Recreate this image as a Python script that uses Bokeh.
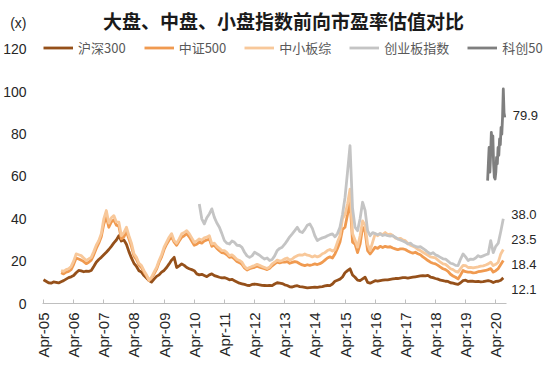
import math
import numpy as np
from bokeh.plotting import figure
from bokeh.models import Range1d, FixedTicker, Legend, LegendItem, Label
from bokeh.embed import file_html
from bokeh.resources import INLINE

title_text = "大盘、中盘、小盘指数前向市盈率估值对比"
unit_text = "(x)"
series_names = ["沪深300", "中证500", "中小板综", "创业板指数", "科创50"]
tick_years = [2005.25 + k for k in range(16)]
tick_labels = ["Apr-05", "Apr-06", "Apr-07", "Apr-08", "Apr-09", "Apr-10", "Apr-11", "Apr-12",
               "Apr-13", "Apr-14", "Apr-15", "Apr-16", "Apr-17", "Apr-18", "Apr-19", "Apr-20"]
y_ticks = [0, 20, 40, 60, 80, 100, 120]
end_labels = ["79.9", "38.0", "23.5", "18.4", "12.1"]

# monthly readings (fractional-year start, one value per month)
hs300_start = 2005.25
hs300 = [
    11.2, 10.5, 9.8, 9.6, 10.2, 10.0, 9.7, 10.3, 10.8, 11.5, 12.2, 12.6,
    13.2, 14.5, 15.6, 15.4, 15.0, 15.3, 15.2, 15.6, 17.5, 19.5, 20.8, 21.8,
    23.0, 24.2, 25.5, 27.0, 28.6, 30.0, 32.0, 29.5, 30.0, 28.0, 24.5, 21.5,
    19.0, 17.5, 15.5, 14.8, 13.2, 12.0, 10.8, 10.1, 11.5, 12.8, 13.5, 14.8,
    15.6, 17.0, 18.7, 20.5, 21.8, 17.0, 17.8, 18.7, 18.0, 17.0, 16.4, 16.0,
    15.5, 14.0, 13.5, 13.8, 13.2, 12.7, 13.5, 14.0, 13.2, 12.8, 12.4, 12.1,
    12.2, 11.8, 11.2, 11.4, 10.8, 10.2, 9.6, 9.3, 9.0, 8.6, 8.5, 9.0,
    9.2, 9.0, 8.8, 8.6, 8.5, 8.4, 8.6, 8.4, 9.2, 9.8, 9.6, 9.4,
    8.8, 8.5, 7.9, 7.8, 8.2, 8.4, 8.0, 7.8, 7.6, 7.4, 7.5, 7.6,
    7.7, 7.6, 7.8, 8.0, 8.3, 8.5, 8.4, 9.2, 10.5, 11.0, 11.5, 12.5,
    14.5, 15.5, 16.4, 13.5, 12.4, 11.0, 10.8, 11.6, 12.4, 10.0, 9.6, 10.2,
    10.8, 10.6, 10.8, 11.0, 11.2, 11.2, 11.4, 11.6, 11.8, 11.8, 12.0, 12.2,
    12.2, 12.0, 12.2, 12.4, 12.6, 12.8, 13.0, 13.2, 13.0, 13.3, 12.5, 12.2,
    11.8, 11.5, 11.0, 10.8, 10.5, 10.4, 9.8, 9.6, 9.3, 9.0, 9.8, 10.8,
    11.0, 10.4, 10.6, 10.5, 10.3, 10.4, 10.2, 10.3, 10.6, 10.8, 10.5, 9.9,
    10.4, 10.5, 11.0, 12.1,
]

zz500_start = 2005.8333
zz500 = [
    14.5, 14.0, 14.8, 15.2, 16.0,
    18.5, 21.5, 21.0, 20.5, 19.8, 18.8, 19.5, 20.5, 23.0, 26.0, 28.5, 31.5,
    37.5, 41.0, 36.0, 38.5, 39.5, 37.0, 36.5, 30.5, 31.5, 34.0, 30.5, 27.0,
    22.5, 20.8, 18.2, 17.0, 14.8, 13.0, 10.8, 12.0, 14.0, 16.2, 19.5, 22.0,
    25.5, 28.0, 30.0, 31.5, 29.0, 27.5, 29.5, 31.3, 32.0, 33.0, 31.5, 29.5,
    27.5, 28.0, 29.0, 28.5, 29.5, 30.0, 30.5, 27.0, 27.5, 26.0, 25.0, 24.0,
    23.8, 23.0, 21.8, 22.0, 21.0, 19.8, 19.3, 18.5, 16.8, 15.8, 16.4, 16.8,
    17.1, 17.6, 17.2, 16.8, 16.4, 16.0, 16.6, 17.8, 18.7, 19.5, 19.2, 19.5,
    19.5, 19.8, 19.0, 19.4, 19.8, 19.5, 18.8, 18.2, 17.9, 18.3, 18.0, 18.3,
    18.7, 18.4, 18.8, 19.5, 20.5, 21.5, 22.0, 21.5, 23.4, 26.0, 29.0, 35.0,
    36.0, 42.0, 49.0, 29.0, 28.0, 24.0, 28.0, 36.0, 34.0, 25.0, 23.4, 25.0,
    26.6, 26.0, 27.0, 26.4, 27.0, 26.6, 26.8, 26.2, 25.8, 25.4, 25.8, 25.8,
    25.5, 24.8, 24.2, 23.8, 24.2, 23.5, 23.0, 22.0, 21.2, 20.3, 19.5, 19.0,
    18.7, 18.0, 17.2, 16.4, 16.0, 15.2, 13.8, 13.0, 12.4, 11.6, 13.5, 15.6,
    15.0, 14.8, 14.8, 14.5, 14.6, 15.0, 15.2, 15.4, 15.6, 16.0, 16.5, 14.8,
    15.5, 16.5, 18.4, 20.3,
]

zxb_start = 2005.8333
zxb = [
    15.6, 15.2, 16.0, 16.4, 17.5,
    20.0, 23.4, 23.0, 22.6, 21.5, 20.3, 21.0, 21.8, 24.5, 27.5, 29.7, 33.0,
    40.0, 43.9, 38.0, 40.5, 41.5, 38.5, 38.4, 32.0, 33.5, 36.0, 32.0, 28.5,
    23.5, 21.8, 19.0, 17.9, 15.5, 13.5, 11.0, 12.5, 14.8, 17.0, 20.3, 23.0,
    26.6, 29.0, 31.3, 33.0, 29.7, 28.5, 30.5, 32.9, 33.5, 34.4, 33.0, 31.0,
    28.9, 29.5, 30.5, 30.0, 31.0, 31.3, 32.0, 28.1, 28.5, 27.0, 26.0, 25.0,
    25.0, 24.0, 22.6, 23.0, 22.0, 20.8, 20.3, 19.5, 17.5, 16.4, 17.0, 17.5,
    17.9, 18.5, 18.0, 17.5, 17.0, 16.5, 17.2, 18.7, 19.5, 20.5, 20.0, 20.3,
    21.1, 21.5, 20.5, 21.0, 22.0, 22.6, 23.0, 22.8, 23.4, 22.8, 22.6, 22.0,
    22.6, 22.0, 22.5, 23.5, 24.0, 25.0, 25.5, 24.8, 25.5, 29.0, 32.0, 40.0,
    42.0, 47.0, 54.0, 33.0, 30.0, 26.6, 32.0, 39.0, 37.0, 28.0, 25.0, 29.0,
    32.9, 32.0, 33.0, 32.5, 33.5, 32.5, 32.8, 32.1, 31.0, 30.5, 30.8, 30.0,
    29.7, 28.5, 27.5, 27.0, 26.5, 25.5, 25.0, 24.2, 23.5, 22.8, 22.0, 21.8,
    21.5, 20.5, 19.5, 18.7, 18.5, 17.5, 16.4, 16.0, 15.2, 14.8, 16.5, 18.0,
    17.9, 17.0, 17.1, 16.8, 17.1, 17.3, 17.6, 17.8, 18.2, 18.7, 19.5, 17.9,
    18.5, 19.5, 23.4, 25.5,
]

cyb_start = 2010.4167
cyb = [
    47.0, 40.0, 37.6, 40.5, 42.3, 44.7, 40.7, 38.0, 36.0, 33.0,
    29.7, 28.5, 28.1, 29.5, 28.9, 27.5, 27.4, 26.5, 24.2, 22.5, 21.8, 22.5,
    24.2, 23.5, 22.8, 21.8, 21.0, 21.5, 20.3, 20.8, 22.5, 25.0, 26.0, 26.6,
    28.0, 29.7, 31.5, 32.9, 34.4, 36.0, 34.0, 33.5, 35.0, 37.0, 37.6, 35.5,
    32.0, 29.7, 30.5, 31.0, 31.3, 32.0, 32.5, 32.9, 31.5, 33.0, 36.0, 42.0,
    50.0, 62.0, 74.5, 45.0, 36.0, 34.4, 40.0, 47.8, 44.0, 34.4, 32.0, 33.5,
    33.0, 32.5, 33.0, 32.1, 32.5, 32.0, 31.8, 32.0, 31.3, 30.5, 30.0, 29.5,
    29.0, 28.1, 28.5, 27.5, 27.0, 26.6, 26.8, 26.0, 25.2, 24.2, 23.4, 24.0,
    23.0, 22.5, 21.8, 21.1, 21.0, 20.0, 19.0, 18.7, 18.0, 17.9, 21.0, 23.4,
    22.0, 20.3, 21.0, 20.8, 21.5, 22.6, 22.0, 22.5, 23.0, 23.4, 29.7, 24.0,
    27.0, 28.5, 34.0, 40.0,
]

# STAR 50: roughly fortnightly readings
kc50_first, kc50_last = 2019.98, 2020.55
kc50 = [58.0, 66.0, 73.7, 62.0, 70.0, 80.8, 76.0, 79.2, 66.0, 59.6, 58.8, 62.0,
        69.0, 66.0, 73.7, 70.0, 77.7, 75.0, 83.2, 80.0, 88.0, 101.3, 90.0, 87.9]

colors = ["#95501A", "#F09A50", "#F8C89A", "#C4C4C4", "#7F7F7F"]


def months(start, vals):
    return start + np.arange(len(vals)) / 12.0


xs = [months(hs300_start, hs300), months(zz500_start, zz500), months(zxb_start, zxb),
      months(cyb_start, cyb), np.linspace(kc50_first, kc50_last, len(kc50))]
ys = [hs300, zz500, zxb, cyb, kc50]

# ---- layout (page pixels) ----
W, H = 550, 377
frame_l, frame_r, frame_t, frame_b = 42, 548, 2, 303
px_per_year = 30.15
px_per_unit = 42.35 / 20
x0 = 2005.25 - (43.0 - frame_l) / px_per_year
x1 = x0 + (frame_r - frame_l) / px_per_year
y0 = 0.0
y1 = (frame_b - frame_t) / px_per_unit
axis_end = x0 + (506 - frame_l) / px_per_year


def dx(page_x):
    return x0 + (page_x - frame_l) / px_per_year


def dy(page_y):
    return (frame_b - page_y) / px_per_unit


p = figure(width=W, height=H, output_backend="svg", toolbar_location=None,
           x_range=Range1d(x0, x1), y_range=Range1d(y0, y1),
           min_border_left=frame_l, min_border_right=W - frame_r,
           min_border_top=frame_t, min_border_bottom=H - frame_b)
p.outline_line_color = None
p.xgrid.grid_line_color = None
p.ygrid.grid_line_color = None
p.background_fill_color = "white"
p.border_fill_color = "white"

renderers = []
for x, y, c in zip(xs, ys, colors):
    r = p.line(x, y, line_color=c, line_width=2.8, line_join="round")
    renderers.append(r)

font = "Liberation Sans, Noto Sans CJK SC"

xa = p.xaxis[0]
xa.ticker = FixedTicker(ticks=tick_years)
xa.bounds = (x0, axis_end)
xa.major_label_overrides = {t: l for t, l in zip(tick_years, tick_labels)}
xa.major_label_orientation = math.pi / 2
xa.axis_line_color = "#BFBFBF"
xa.major_tick_line_color = "#BFBFBF"
xa.major_tick_in = 4
xa.major_tick_out = 0
xa.minor_tick_line_color = None
xa.major_label_text_font = font
xa.major_label_text_font_size = "15px"
xa.major_label_text_color = "#262626"
xa.major_label_standoff = 9

unit_y = dy(22)
ya = p.yaxis[0]
ya.ticker = FixedTicker(ticks=y_ticks + [unit_y])
ya.major_label_overrides = {unit_y: unit_text}
ya.axis_line_color = None
ya.major_tick_line_color = None
ya.major_tick_in = 0
ya.major_tick_out = 0
ya.minor_tick_line_color = None
ya.major_label_text_font = font
ya.major_label_text_font_size = "14px"
ya.major_label_text_color = "#262626"
ya.major_label_standoff = 16

legend = Legend(items=[LegendItem(label=n, renderers=[r]) for n, r in zip(series_names, renderers)],
                orientation="horizontal", location=(1, frame_b - 57), margin=0, padding=0,
                spacing=18, glyph_width=30, glyph_height=17, label_height=17,
                label_standoff=5, border_line_color=None, background_fill_alpha=0,
                label_text_font="Noto Sans CJK SC", label_text_font_size="13px",
                label_text_color="#595959")
p.add_layout(legend)

p.add_layout(Label(x=dx(283), y=dy(20), text=title_text,
                   text_align="center", text_baseline="middle",
                   text_font="Noto Sans CJK SC", text_font_style="bold",
                   text_font_size="19px", text_color="#1A1A1A"))

end_x = [xs[4][-1], xs[3][-1], xs[2][-1], xs[1][-1], xs[0][-1]]
end_page_y = [115, 214, 239, 264, 289]
for ex, py, t in zip(end_x, end_page_y, end_labels):
    p.add_layout(Label(x=ex, y=dy(py), x_offset=8, text=t, text_align="left",
                       text_baseline="middle", text_font=font, text_font_size="13px",
                       text_color="#262626"))

open("out.html", "w").write(file_html(p, INLINE))
